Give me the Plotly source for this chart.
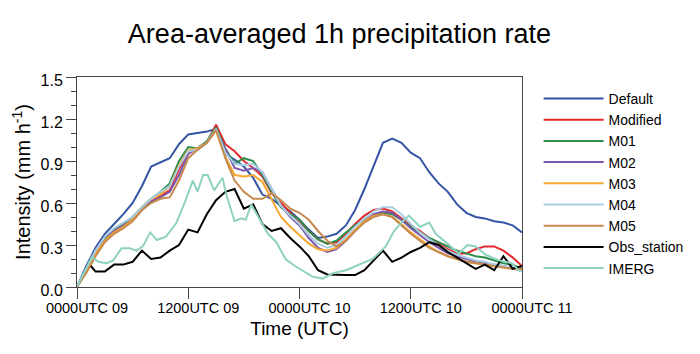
import plotly.graph_objects as go

hours = list(range(0, 49))

default = [0.0, 0.15, 0.28, 0.38, 0.45, 0.52, 0.60, 0.72, 0.86, 0.89, 0.92, 1.02, 1.09, 1.10, 1.11, 1.13,
           0.95, 0.91, 0.86, 0.78, 0.66, 0.63, 0.58, 0.54, 0.48, 0.41, 0.35, 0.36, 0.38, 0.44, 0.55, 0.70,
           0.87, 1.03, 1.06, 1.03, 0.96, 0.92, 0.82, 0.74, 0.68, 0.59, 0.53, 0.50, 0.49, 0.47, 0.46, 0.44, 0.39]
modified = [0.0, 0.12, 0.24, 0.33, 0.39, 0.43, 0.48, 0.55, 0.61, 0.65, 0.69, 0.84, 0.97, 0.98, 1.03, 1.16,
            1.02, 0.97, 0.90, 0.85, 0.79, 0.67, 0.60, 0.53, 0.47, 0.40, 0.34, 0.31, 0.32, 0.38, 0.45, 0.51,
            0.55, 0.56, 0.54, 0.49, 0.44, 0.40, 0.35, 0.31, 0.27, 0.24, 0.24, 0.27, 0.29, 0.29, 0.26, 0.21, 0.15]
m01 = [0.0, 0.13, 0.25, 0.35, 0.41, 0.45, 0.50, 0.57, 0.63, 0.68, 0.74, 0.90, 1.00, 0.99, 1.04, 1.14,
       0.99, 0.88, 0.92, 0.90, 0.80, 0.68, 0.57, 0.52, 0.48, 0.40, 0.34, 0.31, 0.33, 0.39, 0.44, 0.48,
       0.51, 0.53, 0.52, 0.48, 0.43, 0.39, 0.35, 0.32, 0.29, 0.26, 0.24, 0.22, 0.21, 0.19, 0.17, 0.16, 0.13]
m02 = [0.0, 0.12, 0.26, 0.36, 0.40, 0.44, 0.48, 0.55, 0.61, 0.64, 0.68, 0.80, 0.95, 0.99, 1.03, 1.12,
       0.98, 0.85, 0.83, 0.85, 0.82, 0.70, 0.58, 0.50, 0.44, 0.35, 0.28, 0.25, 0.27, 0.33, 0.40, 0.47,
       0.52, 0.54, 0.53, 0.48, 0.42, 0.37, 0.32, 0.28, 0.24, 0.22, 0.20, 0.18, 0.17, 0.16, 0.15, 0.13, 0.12]
m03 = [0.0, 0.11, 0.24, 0.33, 0.39, 0.43, 0.48, 0.57, 0.63, 0.66, 0.72, 0.87, 0.98, 0.99, 1.03, 1.12,
       0.93, 0.80, 0.79, 0.80, 0.75, 0.62, 0.50, 0.43, 0.37, 0.31, 0.27, 0.26, 0.28, 0.34, 0.41, 0.47,
       0.51, 0.52, 0.50, 0.45, 0.39, 0.34, 0.29, 0.25, 0.22, 0.20, 0.18, 0.17, 0.16, 0.15, 0.14, 0.13, 0.12]
m04 = [0.0, 0.13, 0.26, 0.36, 0.42, 0.46, 0.50, 0.57, 0.63, 0.68, 0.72, 0.86, 0.97, 0.98, 1.03, 1.13,
       0.96, 0.88, 0.87, 0.88, 0.82, 0.70, 0.58, 0.51, 0.45, 0.37, 0.31, 0.28, 0.30, 0.36, 0.43, 0.49,
       0.54, 0.57, 0.57, 0.52, 0.45, 0.39, 0.34, 0.30, 0.26, 0.23, 0.21, 0.19, 0.18, 0.16, 0.15, 0.14, 0.11]
m05 = [0.0, 0.10, 0.22, 0.32, 0.38, 0.42, 0.47, 0.55, 0.60, 0.63, 0.64, 0.76, 0.92, 0.98, 1.03, 1.12,
       0.92, 0.76, 0.68, 0.63, 0.63, 0.67, 0.62, 0.56, 0.53, 0.48, 0.40, 0.33, 0.29, 0.33, 0.40, 0.46,
       0.50, 0.52, 0.50, 0.44, 0.38, 0.33, 0.28, 0.25, 0.22, 0.20, 0.18, 0.17, 0.16, 0.15, 0.14, 0.13, 0.13]

obs_hours = [1.5] + list(range(2, 49))
obs_station = [0.15, 0.11, 0.11, 0.16, 0.16, 0.18, 0.26, 0.20, 0.21, 0.26, 0.30, 0.41, 0.39, 0.52, 0.62,
               0.68, 0.70, 0.56, 0.59, 0.45, 0.40, 0.42, 0.35, 0.29, 0.22, 0.12, 0.09, 0.085, 0.085, 0.085,
               0.12, 0.19, 0.26, 0.18, 0.21, 0.25, 0.28, 0.32, 0.30, 0.25, 0.21, 0.17, 0.13, 0.16, 0.12,
               0.22, 0.13, 0.15]

imerg_hours = [0, 1.6, 2.3, 3.2, 3.9, 4.8, 5.7, 6.4, 7.1, 7.9, 8.6, 9.6, 10.7, 11.6, 12.5, 13.0, 13.6,
               14.1, 14.8, 15.7, 16.1, 17.0, 17.7, 18.2, 18.8, 19.7, 20.6, 21.5, 22.5, 23.5, 24.5, 25.4,
               26.5, 27.6, 29.0, 30.4, 31.9, 33.3, 34.2, 35.0, 35.8, 37.0, 38.0, 38.7, 40.1, 41.2, 42.1,
               43.0, 44.1, 45.5, 46.9, 47.8]
imerg = [0.0, 0.216, 0.18, 0.17, 0.19, 0.276, 0.276, 0.26, 0.29, 0.39, 0.336, 0.36, 0.455, 0.60, 0.76,
         0.68, 0.80, 0.80, 0.69, 0.78, 0.66, 0.47, 0.49, 0.48, 0.59, 0.49, 0.38, 0.32, 0.20, 0.15, 0.11,
         0.074, 0.06, 0.098, 0.12, 0.157, 0.20, 0.29, 0.40, 0.46, 0.51, 0.43, 0.46, 0.38, 0.30, 0.24,
         0.30, 0.29, 0.23, 0.19, 0.17, 0.11]

tick_hours = [0, 12, 24, 36, 48]
tick_labels = ["0000UTC 09", "1200UTC 09", "0000UTC 10", "1200UTC 10", "0000UTC 11"]

series = [
    ("Default", hours, default, "#3455a4"),
    ("Modified", hours, modified, "#e4262b"),
    ("M01", hours, m01, "#2f8d4e"),
    ("M02", hours, m02, "#7d57ad"),
    ("M03", hours, m03, "#f6a832"),
    ("M04", hours, m04, "#a9cde3"),
    ("M05", hours, m05, "#c78a4e"),
    ("Obs_station", obs_hours, obs_station, "#000000"),
    ("IMERG", imerg_hours, imerg, "#8fd2c1"),
]

FONT = "Arial, Liberation Sans, sans-serif"

fig = go.Figure()
for name, xs, ys, color in series:
    fig.add_trace(go.Scatter(x=xs, y=ys, mode="lines", name=name,
                             line=dict(color=color, width=2)))

fig.update_layout(
    width=700, height=354,
    margin=dict(l=77, r=177, t=77, b=67),
    paper_bgcolor="white", plot_bgcolor="white",
    font=dict(family=FONT, color="black"),
    title=dict(text="Area-averaged 1h precipitation rate", x=0.485, xanchor="center",
               y=0.905, yanchor="middle", font=dict(size=27, family=FONT, color="black")),
    showlegend=True,
    legend=dict(x=1.035, xanchor="left", y=0.972, yanchor="top",
                font=dict(size=14, family=FONT, color="black"),
                bgcolor="rgba(0,0,0,0)", itemwidth=60, tracegroupgap=0),
)
fig.update_xaxes(range=[0, 48], tickvals=tick_hours, ticktext=tick_labels,
                 ticks="outside", ticklen=11, tickwidth=1, tickcolor="#444",
                 ticklabelshift=10, ticklabelstandoff=-3,
                 showline=True, linecolor="#444", linewidth=1, mirror=True,
                 showgrid=False, zeroline=False,
                 tickfont=dict(size=14.5, family=FONT, color="black"),
                 title=dict(text="Time (UTC)", font=dict(size=19, family=FONT, color="black"), standoff=6))
fig.update_yaxes(range=[0, 1.5], tickvals=[0, 0.3, 0.6, 0.9, 1.2, 1.5], tickformat=".1f",
                 ticks="outside", ticklen=10, tickwidth=1, tickcolor="#444",
                 ticklabelshift=3,
                 minor=dict(dtick=0.1, ticks="outside", ticklen=5, tickcolor="#444"),
                 showline=True, linecolor="#444", linewidth=1, mirror=True,
                 showgrid=False, zeroline=False,
                 tickfont=dict(size=16, family=FONT, color="black"),
                 title=dict(text="Intensity (mm h<sup>-1</sup>)", font=dict(size=20, family=FONT, color="black"),
                            standoff=4))

fig.write_html("out.html")
